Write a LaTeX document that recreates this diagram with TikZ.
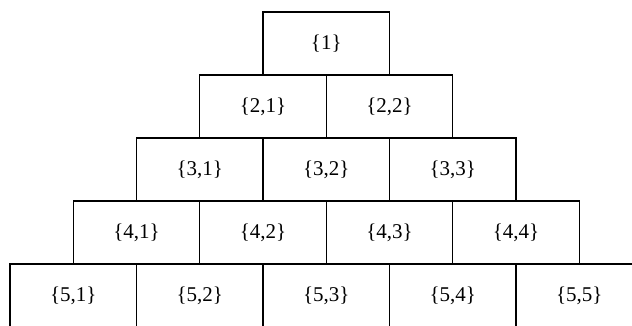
\documentclass[tikz,border=0pt]{standalone}
\usepackage{fontspec}
\setmainfont{Liberation Serif}
\usetikzlibrary{positioning}

\begin{document}
\begin{tikzpicture}[
  x=1pt, y=-1pt,
  cell/.style={draw, line width=1.2pt, minimum width=126.5pt, minimum height=63pt,
               inner sep=0pt, font=\fontsize{21}{25}\selectfont}
]
  \useasboundingbox (0,0) rectangle (632,325);
  \clip (0,0) rectangle (632,325);
  \foreach \r in {1,...,5}{
    \foreach \c in {1,...,\r}{
      \ifnum\r=1
        \node[cell] (b\r\c) at ({263+63.25-(\r-1)*63.25+(\c-1)*126.5},{12+31.5+(\r-1)*63}) {\{1\}};
      \else
        \node[cell] (b\r\c) at ({263+63.25-(\r-1)*63.25+(\c-1)*126.5},{12+31.5+(\r-1)*63}) {\{\r,\c\}};
      \fi
    }
  }
\end{tikzpicture}
\end{document}
